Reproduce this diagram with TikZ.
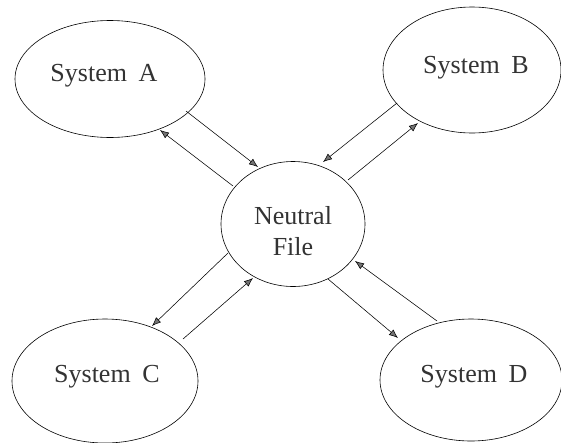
\documentclass[tikz,border=0pt]{standalone}
\usepackage{fontspec}
\setmainfont{Liberation Serif}
\usetikzlibrary{shapes.geometric,arrows.meta}
\tikzset{
  sysell/.style={draw, ellipse, line width=0.6pt, inner sep=0pt},
  lbl/.style={font=\fontsize{26}{31}\selectfont, text=black!80, align=center, inner sep=0pt},
  flow/.style={line width=0.55pt, -{Latex[length=9pt,width=7pt,fill=black!55]}}
}
\begin{document}
\begin{tikzpicture}[x=1pt,y=-1pt]
\useasboundingbox (0,0) rectangle (561,442);
% ellipses
\node[sysell, minimum width=190pt, minimum height=117pt] (A) at (110,79) {};
\node[sysell, minimum width=178pt, minimum height=126pt] (B) at (472,70) {};
\node[sysell, minimum width=186pt, minimum height=124pt] (C) at (105,381) {};
\node[sysell, minimum width=182pt, minimum height=122pt] (D) at (471,380) {};
\node[sysell, minimum width=144pt, minimum height=125pt] (N) at (293,224) {};
% labels
\node[lbl] (tA) at (104,76) {System\hspace{0.45em}A};
\node[lbl] (tB) at (476,68) {System\hspace{0.45em}B};
\node[lbl] (tC) at (107,377) {System\hspace{0.45em}C};
\node[lbl] (tD) at (474,377) {System\hspace{0.45em}D};
\node[lbl] (tN) at (293,231) {Neutral\\File};
% connector end points
\coordinate (a1) at (186,111); \coordinate (n1) at (258,167);
\coordinate (n2) at (233,186); \coordinate (a2) at (160,130);
\coordinate (n3) at (348,180); \coordinate (b3) at (418,123);
\coordinate (b4) at (397,103); \coordinate (n4) at (323,162);
\coordinate (n5) at (228,253); \coordinate (c5) at (152,326);
\coordinate (c6) at (183,339); \coordinate (n6) at (253,278);
\coordinate (n7) at (328,279); \coordinate (d7) at (398,338);
\coordinate (d8) at (437,321); \coordinate (n8) at (355,261);
% connectors
\draw[flow] (a1) -- (n1);
\draw[flow] (n2) -- (a2);
\draw[flow] (n3) -- (b3);
\draw[flow] (b4) -- (n4);
\draw[flow] (n5) -- (c5);
\draw[flow] (c6) -- (n6);
\draw[flow] (n7) -- (d7);
\draw[flow] (d8) -- (n8);
\end{tikzpicture}
\end{document}
